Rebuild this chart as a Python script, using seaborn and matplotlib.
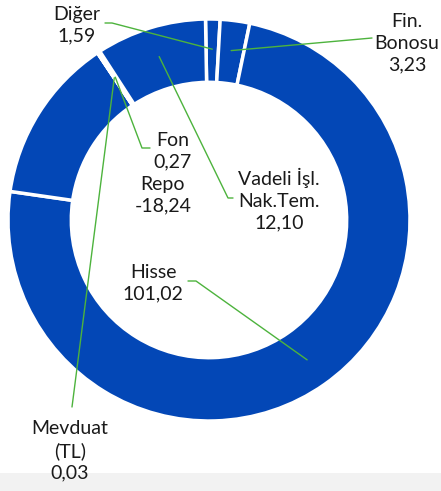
import numpy as np
import matplotlib
matplotlib.use("Agg")
import matplotlib.pyplot as plt
import seaborn as sns

# ================== DATA ==================
categories = ["Diğer", "Fin.\nBonosu", "Hisse", "Repo", "Mevduat\n(TL)", "Fon", "Vadeli İşl.\nNak.Tem."]
values = [1.59, 3.23, 101.02, -18.24, 0.03, 0.27, 12.10]
value_labels = ["1,59", "3,23", "101,02", "-18,24", "0,03", "0,27", "12,10"]

# ================== STYLE ==================
sns.set_theme(style="white")
plt.rcParams["font.family"] = ["Lato", "DejaVu Sans"]

W, H = 441, 491
fig = plt.figure(figsize=(W / 100, H / 100), dpi=100)
ax = fig.add_axes([0, 0, 1, 1])

blue = "#0347B6"
green = "#4DB33D"

# grey strip at the bottom
ax.axhspan(0, 18, color="#F2F2F2", zorder=0, lw=0)

# ================== DONUT ==================
center = (209, H - 220)
R = 201
explode = [0, 0, 0, 0.025, 0, 0, 0]
wedges, _ = ax.pie(np.abs(values), colors=[blue] * len(values), startangle=91,
                   counterclock=False, center=center, radius=R, explode=explode,
                   wedgeprops=dict(width=R * 0.315, edgecolor="white", linewidth=2.5),
                   frame=True)
ax.set_xlim(0, W)
ax.set_ylim(0, H)
ax.set_aspect("equal")
ax.axis("off")


def slice_point(i, frac=0.85):
    w = wedges[i]
    ang = np.deg2rad((w.theta1 + w.theta2) / 2)
    return center[0] + frac * R * np.cos(ang), center[1] + frac * R * np.sin(ang)


# label text centre, leader path start points (pixel coords from top), None = no leader
labels = {
    "Diğer": ((77, 25), [(105, 23), (112, 23)]),
    "Fin.\nBonosu": ((407, 43), [(372, 38)]),
    "Hisse": ((153, 283), [(188, 281), (196, 281)]),
    "Repo": ((163, 195), None),
    "Mevduat\n(TL)": ((70, 451), [(72, 407)]),
    "Fon": ((173, 151), [(150, 148), (142, 148)]),
    "Vadeli İşl.\nNak.Tem.": ((279, 200), [(233, 198), (228, 198)]),
}

for i, cat in enumerate(categories):
    (tx, ty), path = labels[cat]
    ax.text(tx, H - ty, f"{cat}\n{value_labels[i]}", ha="center", va="center",
            fontsize=14, color="#1a1a1a", linespacing=1.33, zorder=5)
    if path:
        px = [p[0] for p in path]
        py = [H - p[1] for p in path]
        ex, ey = slice_point(i)
        px.append(ex)
        py.append(ey)
        ax.plot(px, py, color=green, lw=1, zorder=4)

fig.savefig("out.png", dpi=100)
